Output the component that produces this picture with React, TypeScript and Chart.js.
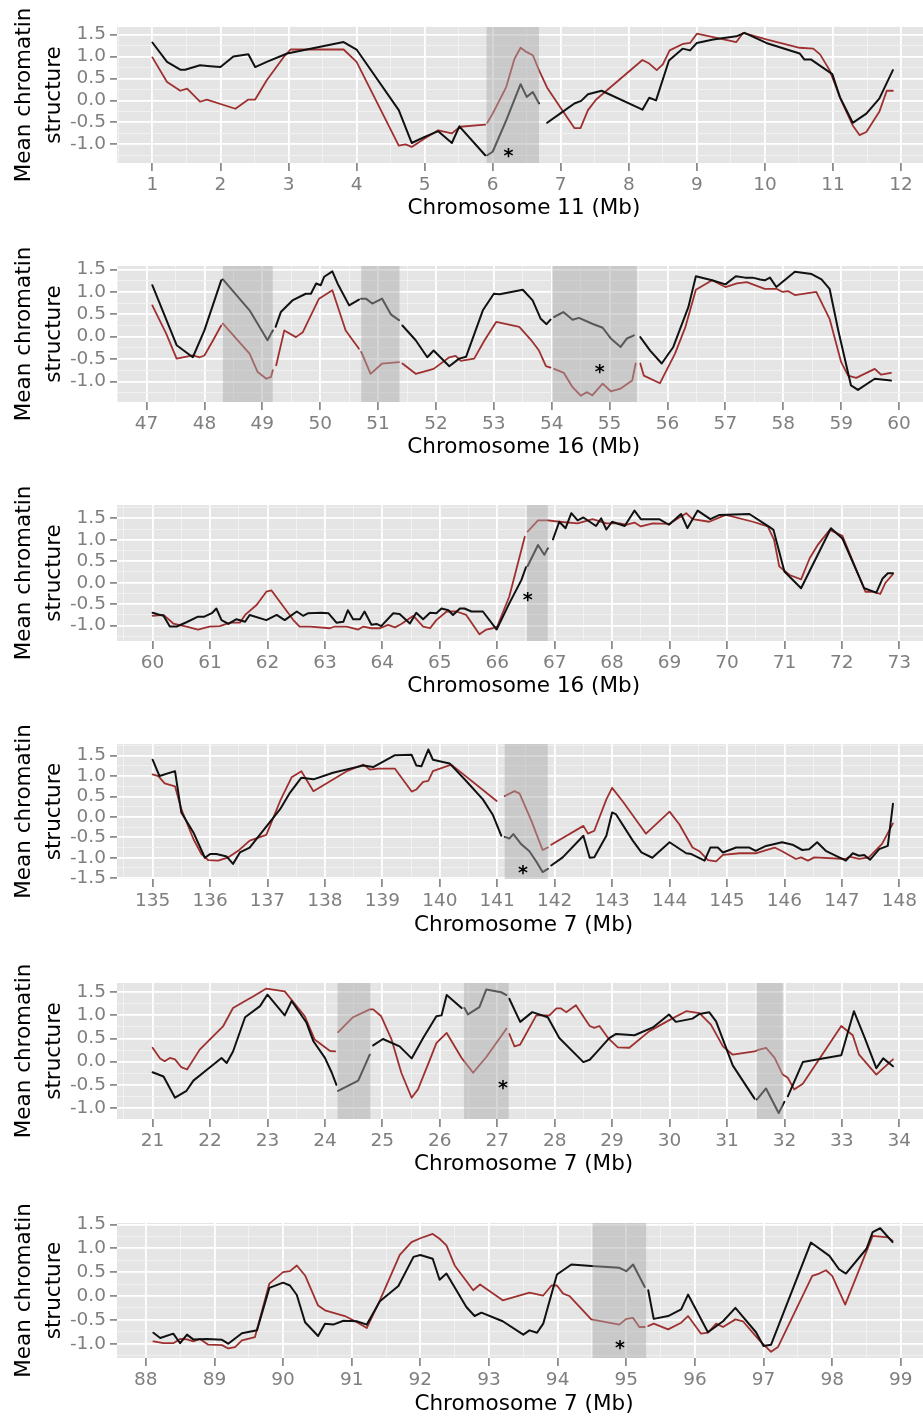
import React, { useEffect, useRef } from 'react';
import { Chart, registerables } from 'chart.js';

Chart.register(...registerables);

const FONT = '"DejaVu Sans", "Liberation Sans", sans-serif';
const BLACK = '#111111';
const RED = '#9e3030';
const PANEL_BG = '#e5e5e5';
const SHADE = 'rgba(170,170,170,0.47)';
const TICK_GRAY = '#7f7f7f';
const CANVAS_W = 931;
const CANVAS_H = 240;
const PLOT_TOP = 27;
const PLOT_LEFT = 117;
const TICK_FONT = 18.5;

type Pt = [number, number] | null;

// ---------- Panel 1: Chromosome 11 ----------
const p1Title = 'Chromosome 11 (Mb)';
const p1XTicks = [1, 2, 3, 4, 5, 6, 7, 8, 9, 10, 11, 12];
const p1YTicks = [-1.0, -0.5, 0.0, 0.5, 1.0, 1.5];
const p1XRange = [0.48, 12.44];
const p1YRange = [-1.426, 1.673];
const p1Shades = [[5.91, 6.68]];
const p1Star = [6.23, -1.17];
const p1Black: Pt[] = [
  [1.0, 1.32], [1.215, 0.88], [1.41, 0.7], [1.48, 0.7], [1.7, 0.8], [1.85, 0.78], [2.0, 0.76], [2.19, 1.0], [2.41, 1.05], [2.51, 0.76],
  [2.68, 0.88], [2.98, 1.07], [3.81, 1.33], [4.0, 1.16], [4.62, -0.22], [4.81, -0.97], [5.0, -0.83], [5.2, -0.7], [5.4, -0.97], [5.51, -0.59],
  [5.89, -1.25], null,
  [5.92, -1.25], [6.0, -1.17], [6.2, -0.45], [6.41, 0.37], [6.5, 0.08], [6.59, 0.19], [6.68, -0.07], null,
  [6.8, -0.51], [6.99, -0.3], [7.2, -0.07], [7.3, -0.01], [7.4, 0.14], [7.6, 0.22], [8.2, -0.21], [8.3, 0.06], [8.4, 0.0], [8.59, 0.91],
  [8.79, 1.18], [8.9, 1.14], [9.0, 1.31], [9.24, 1.39], [9.58, 1.46], [9.7, 1.54], [10.02, 1.31], [10.51, 1.07], [10.58, 0.93], [10.68, 0.93],
  [10.99, 0.6], [11.1, 0.08], [11.29, -0.51], [11.49, -0.3], [11.68, 0.04], [11.88, 0.69],
];
const p1Red: Pt[] = [
  [1.0, 0.98], [1.215, 0.42], [1.41, 0.22], [1.51, 0.27], [1.7, -0.03], [1.8, 0.02], [2.22, -0.19], [2.41, 0.02], [2.51, 0.02], [2.68, 0.46],
  [2.93, 0.99], [3.03, 1.16], [3.81, 1.16], [4.0, 0.88], [4.62, -1.03], [4.72, -1.0], [4.81, -1.06], [5.0, -0.87], [5.2, -0.68], [5.4, -0.75],
  [5.52, -0.6], [5.89, -0.55], null,
  [5.92, -0.51], [6.0, -0.3], [6.2, 0.31], [6.32, 0.95], [6.41, 1.2], [6.5, 1.1], [6.59, 1.03], [6.68, 0.69], [6.8, 0.29], [6.99, -0.15],
  [7.2, -0.63], [7.29, -0.63], [7.4, -0.22], [7.52, 0.02], [8.2, 0.92], [8.3, 0.84], [8.41, 0.69], [8.5, 0.82], [8.6, 1.14], [8.8, 1.29],
  [8.9, 1.31], [9.0, 1.52], [9.58, 1.33], [9.68, 1.54], [10.02, 1.39], [10.51, 1.2], [10.71, 1.18], [10.81, 1.05], [10.95, 0.69], [11.12, 0.0],
  [11.29, -0.57], [11.39, -0.79], [11.49, -0.72], [11.68, -0.26], [11.79, 0.22], [11.88, 0.22],
];

// ---------- Panel 2: Chromosome 16 (47-60) ----------
const p2Title = 'Chromosome 16 (Mb)';
const p2XTicks = [47, 48, 49, 50, 51, 52, 53, 54, 55, 56, 57, 58, 59, 60];
const p2YTicks = [-1.0, -0.5, 0.0, 0.5, 1.0, 1.5];
const p2XRange = [46.49, 60.54];
const p2YRange = [-1.46, 1.58];
const p2Shades = [[48.32, 49.18], [50.71, 51.37], [54.01, 55.47]];
const p2Star = [54.83, -0.68];
const p2Black: Pt[] = [
  [47.1, 1.15], [47.52, -0.19], [47.8, -0.46], [48.0, 0.14], [48.29, 1.26], null,
  [48.32, 1.28], [48.78, 0.59], [49.09, -0.08], [49.18, 0.14], null,
  [49.23, 0.22], [49.32, 0.55], [49.52, 0.81], [49.75, 0.96], [49.84, 0.96], [49.93, 1.19], [50.01, 1.15], [50.07, 1.34], [50.21, 1.46], [50.3, 1.19],
  [50.5, 0.7], [50.67, 0.83], null,
  [50.71, 0.85], [50.79, 0.85], [50.9, 0.74], [51.07, 0.85], [51.22, 0.5], [51.36, 0.37], null,
  [51.42, 0.25], [51.65, -0.08], [51.85, -0.46], [51.96, -0.31], [52.23, -0.66], [52.4, -0.49], [52.52, -0.45], [52.81, 0.59], [53.0, 0.96], [53.1, 0.95],
  [53.5, 1.05], [53.67, 0.81], [53.81, 0.4], [53.91, 0.28], [53.98, 0.38], null,
  [54.04, 0.44], [54.2, 0.55], [54.36, 0.38], [54.47, 0.42], [54.7, 0.29], [54.88, 0.2], [55.02, -0.04], [55.19, -0.23], [55.3, -0.04], [55.42, 0.03], null,
  [55.53, -0.01], [55.7, -0.31], [55.9, -0.6], [56.1, -0.23], [56.36, 0.66], [56.49, 1.35], [56.77, 1.26], [57.0, 1.17], [57.18, 1.35], [57.34, 1.32],
  [57.47, 1.32], [57.6, 1.28], [57.68, 1.26], [57.77, 1.32], [57.88, 1.11], [58.2, 1.45], [58.49, 1.4], [58.66, 1.28], [58.8, 1.07], [58.95, 0.14],
  [59.17, -1.09], [59.29, -1.19], [59.58, -0.94], [59.86, -0.98],
];
const p2Red: Pt[] = [
  [47.1, 0.7], [47.34, 0.07], [47.52, -0.49], [47.8, -0.42], [47.92, -0.46], [48.0, -0.42], [48.15, -0.08], [48.29, 0.25], null,
  [48.32, 0.29], [48.78, -0.38], [48.92, -0.79], [49.07, -0.94], [49.15, -0.9], [49.18, -0.75], null,
  [49.24, -0.64], [49.38, 0.14], [49.58, -0.01], [49.7, 0.1], [49.81, 0.4], [49.98, 0.85], [50.21, 1.04], [50.44, 0.14], [50.67, -0.27], null,
  [50.71, -0.34], [50.87, -0.83], [51.07, -0.6], [51.36, -0.57], null,
  [51.42, -0.6], [51.65, -0.83], [51.96, -0.72], [52.23, -0.46], [52.34, -0.43], [52.43, -0.54], [52.66, -0.49], [52.84, -0.08], [53.04, 0.33], [53.44, 0.22],
  [53.64, -0.07], [53.78, -0.31], [53.9, -0.66], [53.98, -0.69], null,
  [54.04, -0.72], [54.21, -0.81], [54.36, -1.13], [54.5, -1.32], [54.61, -1.24], [54.7, -1.31], [54.88, -1.05], [55.02, -1.22], [55.19, -1.16], [55.39, -0.98],
  [55.45, -0.6], null,
  [55.53, -0.6], [55.59, -0.87], [55.87, -1.04], [56.13, -0.38], [56.31, 0.22], [56.49, 1.05], [56.77, 1.26], [57.0, 1.11], [57.2, 1.19], [57.37, 1.22],
  [57.68, 1.07], [57.88, 1.07], [57.99, 1.0], [58.08, 1.02], [58.2, 0.93], [58.57, 1.0], [58.8, 0.4], [59.0, -0.57], [59.12, -0.87], [59.26, -0.92],
  [59.58, -0.72], [59.69, -0.85], [59.86, -0.81],
];

// ---------- Panel 3: Chromosome 16 (60-73) ----------
const p3Title = 'Chromosome 16 (Mb)';
const p3XTicks = [60, 61, 62, 63, 64, 65, 66, 67, 68, 69, 70, 71, 72, 73];
const p3YTicks = [-1.0, -0.5, 0.0, 0.5, 1.0, 1.5];
const p3XRange = [59.38, 73.54];
const p3YRange = [-1.357, 1.81];
const p3Shades = [[66.52, 66.88]];
const p3Star = [66.53, -0.31];
const p3Black: Pt[] = [
  [60.0, -0.7], [60.1, -0.74], [60.19, -0.77], [60.3, -1.02], [60.42, -1.02], [60.59, -0.92], [60.79, -0.79], [60.9, -0.79], [61.04, -0.7], [61.11, -0.6],
  [61.2, -0.87], [61.32, -0.96], [61.46, -0.85], [61.61, -0.91], [61.69, -0.75], [61.98, -0.87], [62.16, -0.75], [62.3, -0.87], [62.51, -0.67], [62.62, -0.77],
  [62.71, -0.71], [62.94, -0.7], [63.06, -0.71], [63.2, -0.93], [63.32, -0.91], [63.4, -0.64], [63.49, -0.85], [63.61, -0.85], [63.69, -0.67], [63.81, -0.98],
  [63.9, -0.96], [63.98, -1.01], [64.19, -0.71], [64.3, -0.73], [64.48, -0.95], [64.59, -0.7], [64.71, -0.85], [64.83, -0.7], [64.94, -0.71], [65.03, -0.6],
  [65.15, -0.64], [65.23, -0.75], [65.35, -0.6], [65.43, -0.6], [65.55, -0.67], [65.75, -0.67], [65.99, -1.09], [66.21, -0.48], [66.42, 0.06], [66.5, 0.36], null,
  [66.53, 0.39], [66.71, 0.88], [66.82, 0.65], [66.88, 0.8], null,
  [66.97, 1.01], [67.08, 1.42], [67.19, 1.27], [67.29, 1.62], [67.4, 1.45], [67.5, 1.52], [67.61, 1.42], [67.72, 1.32], [67.81, 1.5], [67.9, 1.24],
  [68.0, 1.42], [68.22, 1.32], [68.39, 1.68], [68.5, 1.48], [68.82, 1.48], [68.99, 1.35], [69.2, 1.6], [69.31, 1.27], [69.49, 1.68], [69.71, 1.48],
  [69.87, 1.58], [70.39, 1.6], [70.77, 1.27], [70.81, 1.23], [71.0, 0.26], [71.29, -0.13], [71.81, 1.27], [72.01, 1.03], [72.39, -0.13], [72.6, -0.23],
  [72.71, 0.1], [72.8, 0.22], [72.89, 0.22],
];
const p3Red: Pt[] = [
  [60.0, -0.77], [60.19, -0.75], [60.36, -0.95], [60.59, -1.02], [60.79, -1.09], [60.99, -1.02], [61.17, -1.01], [61.35, -0.93], [61.52, -0.93], [61.61, -0.75],
  [61.81, -0.52], [61.98, -0.21], [62.07, -0.18], [62.27, -0.54], [62.45, -0.87], [62.56, -1.02], [62.74, -1.02], [63.09, -1.06], [63.17, -1.02], [63.38, -1.02],
  [63.58, -1.09], [63.67, -1.02], [63.81, -1.06], [63.96, -1.06], [64.1, -0.98], [64.22, -1.04], [64.33, -0.96], [64.54, -0.77], [64.71, -1.02], [64.83, -1.06],
  [64.94, -0.87], [65.12, -0.67], [65.29, -0.67], [65.46, -0.75], [65.69, -1.2], [65.81, -1.09], [65.92, -1.06], [66.0, -1.02], [66.21, -0.32], [66.48, 1.07], null,
  [66.53, 1.19], [66.71, 1.45], [66.88, 1.45], [67.08, 1.42], [67.4, 1.38], [67.66, 1.48], [67.9, 1.38], [68.13, 1.38], [68.24, 1.35], [68.39, 1.4],
  [68.5, 1.31], [68.71, 1.38], [68.99, 1.37], [69.29, 1.62], [69.4, 1.48], [69.69, 1.42], [69.98, 1.58], [70.45, 1.42], [70.71, 1.31], [70.82, 1.0],
  [70.91, 0.38], [71.09, 0.18], [71.29, 0.08], [71.44, 0.57], [71.58, 0.88], [71.79, 1.23], [72.01, 1.09], [72.41, -0.21], [72.53, -0.21], [72.67, -0.26],
  [72.76, 0.0], [72.89, 0.2],
];

// ---------- Panel 4: Chromosome 7 (135-148) ----------
const p4Title = 'Chromosome 7 (Mb)';
const p4XTicks = [135, 136, 137, 138, 139, 140, 141, 142, 143, 144, 145, 146, 147, 148];
const p4YTicks = [-1.5, -1.0, -0.5, 0.0, 0.5, 1.0, 1.5];
const p4XRange = [134.38, 148.54];
const p4YRange = [-1.52, 1.785];
const p4Shades = [[141.13, 141.88]];
const p4Star = [141.45, -1.27];
const p4Black: Pt[] = [
  [135.0, 1.4], [135.12, 1.0], [135.39, 1.12], [135.5, 0.11], [135.71, -0.38], [135.91, -1.0], [136.0, -0.91], [136.11, -0.91], [136.29, -0.97], [136.4, -1.15],
  [136.52, -0.87], [136.69, -0.75], [137.01, -0.18], [137.22, 0.19], [137.39, 0.59], [137.59, 0.96], [137.8, 0.92], [138.14, 1.08], [138.49, 1.2], [138.67, 1.26],
  [138.84, 1.22], [139.22, 1.51], [139.51, 1.52], [139.59, 1.26], [139.68, 1.24], [139.8, 1.65], [139.88, 1.4], [140.17, 1.31], [140.46, 0.88], [140.75, 0.43],
  [140.92, 0.06], [141.07, -0.46], null,
  [141.13, -0.49], [141.21, -0.53], [141.28, -0.42], [141.42, -0.67], [141.56, -0.84], [141.68, -1.09], [141.79, -1.35], [141.88, -1.27], null,
  [141.94, -1.19], [142.14, -0.99], [142.5, -0.46], [142.61, -1.0], [142.69, -0.99], [142.9, -0.46], [143.0, 0.11], [143.07, 0.06], [143.36, -0.58], [143.51, -0.87],
  [143.7, -1.0], [144.0, -0.62], [144.29, -0.89], [144.38, -0.91], [144.61, -1.07], [144.71, -0.75], [144.84, -0.75], [144.93, -0.87], [145.16, -0.75], [145.39, -0.75],
  [145.5, -0.83], [145.68, -0.71], [145.96, -0.62], [146.14, -0.68], [146.31, -0.81], [146.43, -0.79], [146.57, -0.62], [146.72, -0.83], [147.07, -1.07], [147.19, -0.89],
  [147.3, -0.95], [147.39, -0.93], [147.49, -1.05], [147.65, -0.79], [147.8, -0.71], [147.89, 0.32],
];
const p4Red: Pt[] = [
  [135.0, 1.04], [135.1, 1.0], [135.21, 0.82], [135.39, 0.75], [135.5, 0.19], [135.71, -0.54], [135.85, -0.91], [135.97, -1.06], [136.14, -1.07], [136.32, -0.99],
  [136.49, -0.83], [136.69, -0.58], [136.98, -0.44], [137.22, 0.39], [137.42, 0.97], [137.59, 1.12], [137.8, 0.63], [138.38, 1.12], [138.67, 1.28], [138.78, 1.16],
  [138.93, 1.18], [139.22, 1.18], [139.51, 0.62], [139.59, 0.67], [139.71, 0.86], [139.8, 0.88], [139.88, 1.12], [140.2, 1.28], [140.99, 0.39], null,
  [141.13, 0.51], [141.3, 0.63], [141.39, 0.57], [141.59, -0.08], [141.79, -0.81], [141.88, -0.75], null,
  [141.94, -0.68], [142.5, -0.22], [142.58, -0.41], [142.69, -0.34], [142.9, 0.43], [143.0, 0.71], [143.19, 0.37], [143.59, -0.41], [144.0, 0.13], [144.17, -0.18],
  [144.4, -0.75], [144.52, -0.84], [144.67, -1.06], [144.81, -1.09], [144.93, -0.93], [145.22, -0.89], [145.5, -0.89], [145.74, -0.79], [145.83, -0.75], [145.96, -0.84],
  [146.2, -1.03], [146.29, -0.99], [146.41, -1.07], [146.52, -0.99], [147.07, -1.03], [147.13, -0.97], [147.3, -1.03], [147.47, -0.99], [147.7, -0.66], [147.89, -0.16],
];

// ---------- Panel 5: Chromosome 7 (21-34) ----------
const p5Title = 'Chromosome 7 (Mb)';
const p5XTicks = [21, 22, 23, 24, 25, 26, 27, 28, 29, 30, 31, 32, 33, 34];
const p5YTicks = [-1.0, -0.5, 0.0, 0.5, 1.0, 1.5];
const p5XRange = [20.38, 34.54];
const p5YRange = [-1.24, 1.7];
const p5Shades = [[24.22, 24.79], [26.42, 27.2], [31.52, 31.97]];
const p5Star = [27.1, -0.48];
const p5Black: Pt[] = [
  [21.0, -0.23], [21.19, -0.32], [21.39, -0.78], [21.59, -0.63], [21.71, -0.41], [21.88, -0.24], [22.2, 0.08], [22.29, -0.03], [22.4, 0.22], [22.61, 0.96],
  [22.87, 1.2], [23.0, 1.45], [23.3, 1.0], [23.42, 1.31], [23.68, 0.84], [23.8, 0.44], [24.0, 0.08], [24.12, -0.24], [24.2, -0.5], null,
  [24.23, -0.63], [24.58, -0.41], [24.78, 0.15], null,
  [24.84, 0.35], [25.01, 0.49], [25.3, 0.33], [25.51, 0.07], [25.71, 0.51], [25.94, 0.98], [26.03, 1.0], [26.12, 1.44], [26.38, 1.16], null,
  [26.43, 1.16], [26.49, 1.02], [26.69, 1.18], [26.81, 1.56], [27.07, 1.5], [27.16, 1.44], null,
  [27.21, 1.36], [27.4, 0.86], [27.61, 1.07], [27.88, 0.96], [28.08, 0.51], [28.5, -0.01], [28.61, 0.04], [28.72, 0.19], [28.95, 0.51], [29.07, 0.6],
  [29.39, 0.57], [29.71, 0.74], [29.99, 1.02], [30.11, 0.86], [30.4, 0.93], [30.52, 1.03], [30.69, 1.07], [30.81, 0.87], [31.1, -0.08], [31.48, -0.8], null,
  [31.52, -0.82], [31.68, -0.58], [31.9, -1.11], [32.0, -0.87], null,
  [32.06, -0.75], [32.32, -0.01], [32.99, 0.14], [33.21, 1.09], [33.4, 0.51], [33.6, -0.14], [33.72, 0.07], [33.89, -0.1],
];
const p5Red: Pt[] = [
  [21.0, 0.3], [21.13, 0.07], [21.21, 0.01], [21.3, 0.08], [21.39, 0.05], [21.5, -0.12], [21.6, -0.17], [21.82, 0.26], [22.23, 0.77], [22.4, 1.16],
  [22.61, 1.31], [22.75, 1.41], [22.98, 1.58], [23.3, 1.52], [23.65, 0.98], [23.82, 0.48], [24.09, 0.23], [24.18, 0.22], null,
  [24.23, 0.64], [24.49, 0.96], [24.78, 1.13], [24.84, 1.13], [24.98, 0.98], [25.16, 0.48], [25.33, -0.24], [25.51, -0.78], [25.62, -0.6], [25.83, 0.05],
  [25.94, 0.4], [26.12, 0.62], [26.38, 0.08], [26.43, 0.0], [26.58, -0.24], [26.81, 0.1], [27.16, 0.71], null,
  [27.21, 0.6], [27.3, 0.33], [27.4, 0.37], [27.68, 1.0], [27.91, 1.0], [28.03, 1.15], [28.11, 1.15], [28.2, 1.07], [28.37, 1.22], [28.61, 0.77],
  [28.69, 0.73], [28.78, 0.77], [28.93, 0.51], [29.1, 0.31], [29.3, 0.3], [29.65, 0.66], [30.06, 0.94], [30.29, 1.09], [30.52, 1.05], [30.72, 0.8],
  [30.93, 0.33], [31.1, 0.15], [31.48, 0.22], [31.56, 0.26], [31.68, 0.3], [31.83, 0.08], [31.97, -0.28], [32.06, -0.35], [32.17, -0.6], [32.32, -0.48],
  [32.55, -0.05], [32.99, 0.77], [33.19, 0.57], [33.3, 0.15], [33.6, -0.28], [33.89, 0.05],
];

// ---------- Panel 6: Chromosome 7 (88-99) ----------
const p6Title = 'Chromosome 7 (Mb)';
const p6XTicks = [88, 89, 90, 91, 92, 93, 94, 95, 96, 97, 98, 99];
const p6YTicks = [-1.0, -0.5, 0.0, 0.5, 1.0, 1.5];
const p6XRange = [87.58, 99.44];
const p6YRange = [-1.3, 1.53];
const p6Shades = [[94.51, 95.29]];
const p6Star = [94.91, -1.0];
const p6Black: Pt[] = [
  [88.11, -0.77], [88.21, -0.88], [88.4, -0.79], [88.5, -0.99], [88.6, -0.81], [88.69, -0.91], [88.89, -0.9], [89.11, -0.92], [89.2, -1.0], [89.4, -0.78],
  [89.62, -0.72], [89.8, 0.17], [90.0, 0.28], [90.1, 0.22], [90.2, 0.02], [90.32, -0.55], [90.51, -0.84], [90.61, -0.58], [90.73, -0.6], [90.88, -0.52],
  [91.07, -0.53], [91.22, -0.6], [91.41, -0.11], [91.68, 0.21], [91.9, 0.82], [92.0, 0.86], [92.18, 0.78], [92.28, 0.34], [92.38, 0.47], [92.67, -0.23],
  [92.79, -0.42], [92.89, -0.35], [93.2, -0.53], [93.5, -0.81], [93.59, -0.72], [93.7, -0.77], [93.79, -0.58], [93.99, 0.45], [94.2, 0.66], [94.49, 0.63],
  [94.9, 0.59], [95.0, 0.52], [95.1, 0.66], [95.27, 0.19], null,
  [95.32, 0.12], [95.4, -0.48], [95.61, -0.42], [95.8, -0.28], [95.9, 0.03], [96.19, -0.76], [96.41, -0.53], [96.59, -0.25], [96.89, -0.76], [97.0, -1.05],
  [97.11, -1.02], [97.69, 1.12], [97.96, 0.84], [98.1, 0.56], [98.2, 0.47], [98.5, 0.99], [98.59, 1.34], [98.7, 1.42], [98.88, 1.13],
];
const p6Red: Pt[] = [
  [88.11, -0.95], [88.26, -0.99], [88.4, -0.99], [88.5, -0.9], [88.6, -0.91], [88.69, -0.95], [88.79, -0.9], [88.91, -1.02], [89.11, -1.03], [89.2, -1.1],
  [89.3, -1.07], [89.4, -0.93], [89.59, -0.86], [89.8, 0.26], [90.0, 0.5], [90.1, 0.52], [90.2, 0.64], [90.32, 0.43], [90.51, -0.2], [90.61, -0.3],
  [90.9, -0.42], [91.05, -0.53], [91.22, -0.67], [91.41, -0.09], [91.7, 0.86], [91.87, 1.13], [92.0, 1.21], [92.18, 1.3], [92.28, 1.2], [92.38, 1.06],
  [92.5, 0.64], [92.77, 0.12], [92.87, 0.24], [93.2, -0.09], [93.59, 0.07], [93.79, 0.01], [93.91, 0.22], [93.99, 0.22], [94.08, 0.05], [94.17, 0.0],
  [94.49, -0.49], [94.9, -0.6], [95.0, -0.48], [95.1, -0.46], [95.19, -0.65], [95.27, -0.65], null,
  [95.32, -0.63], [95.4, -0.58], [95.61, -0.7], [95.8, -0.56], [95.9, -0.42], [96.09, -0.79], [96.19, -0.77], [96.31, -0.58], [96.41, -0.65], [96.59, -0.49],
  [96.7, -0.53], [96.94, -0.93], [97.11, -1.17], [97.21, -1.07], [97.71, 0.42], [97.81, 0.47], [97.91, 0.54], [98.0, 0.42], [98.19, -0.18], [98.59, 1.26],
  [98.81, 1.23], [98.88, 1.16],
];

interface PanelCfg {
  title: string;
  xTicks: number[];
  yTicks: number[];
  xRange: number[];
  yRange: number[];
  shades: number[][];
  star: number[];
  black: Pt[];
  red: Pt[];
  top: number;
  plotH: number;
}

const panels: PanelCfg[] = [
  { title: p1Title, xTicks: p1XTicks, yTicks: p1YTicks, xRange: p1XRange, yRange: p1YRange, shades: p1Shades, star: p1Star, black: p1Black, red: p1Red, top: 0, plotH: 136 },
  { title: p2Title, xTicks: p2XTicks, yTicks: p2YTicks, xRange: p2XRange, yRange: p2YRange, shades: p2Shades, star: p2Star, black: p2Black, red: p2Red, top: 239, plotH: 136 },
  { title: p3Title, xTicks: p3XTicks, yTicks: p3YTicks, xRange: p3XRange, yRange: p3YRange, shades: p3Shades, star: p3Star, black: p3Black, red: p3Red, top: 478, plotH: 136 },
  { title: p4Title, xTicks: p4XTicks, yTicks: p4YTicks, xRange: p4XRange, yRange: p4YRange, shades: p4Shades, star: p4Star, black: p4Black, red: p4Red, top: 717, plotH: 135 },
  { title: p5Title, xTicks: p5XTicks, yTicks: p5YTicks, xRange: p5XRange, yRange: p5YRange, shades: p5Shades, star: p5Star, black: p5Black, red: p5Red, top: 956, plotH: 136 },
  { title: p6Title, xTicks: p6XTicks, yTicks: p6YTicks, xRange: p6XRange, yRange: p6YRange, shades: p6Shades, star: p6Star, black: p6Black, red: p6Red, top: 1196, plotH: 135 },
];

function toData(pts: Pt[]) {
  const out: { x: number; y: number | null }[] = [];
  let lastX = 0;
  for (const p of pts) {
    if (p) {
      out.push({ x: p[0], y: p[1] });
      lastX = p[0];
    } else {
      out.push({ x: lastX + 0.001, y: null });
    }
  }
  return out;
}

function gridValues(major: number[], range: number[]) {
  const half = (major[1] - major[0]) / 2;
  const vals: number[] = [];
  const start = Math.ceil(range[0] / half - 1e-9);
  for (let k = start; k * half <= range[1] + 1e-9; k++) {
    vals.push(Math.round(k * half * 1e6) / 1e6);
  }
  return vals;
}

const isMajor = (arr: number[], v: number) => arr.some((m) => Math.abs(m - v) < 1e-6);

function Panel({ cfg }: { cfg: PanelCfg }) {
  const ref = useRef<HTMLCanvasElement | null>(null);

  useEffect(() => {
    const canvas = ref.current;
    if (!canvas) return;
    const xVals = gridValues(cfg.xTicks, cfg.xRange);
    const yVals = gridValues(cfg.yTicks, cfg.yRange);
    const xAxisH = CANVAS_H - PLOT_TOP - cfg.plotH;

    const bgPlugin = {
      id: 'panelBg',
      beforeDraw(chart: any) {
        const { ctx, chartArea: a } = chart;
        ctx.save();
        ctx.fillStyle = PANEL_BG;
        ctx.fillRect(a.left, a.top, a.right - a.left, a.bottom - a.top);
        ctx.restore();
      },
    };

    const overlayPlugin = {
      id: 'overlay',
      afterDatasetsDraw(chart: any) {
        const { ctx, chartArea: a, scales } = chart;
        const xs = scales.x;
        const ys = scales.y;
        ctx.save();
        ctx.fillStyle = SHADE;
        for (const s of cfg.shades) {
          const x0 = xs.getPixelForValue(s[0]);
          const x1 = xs.getPixelForValue(s[1]);
          ctx.fillRect(x0, a.top, x1 - x0, a.bottom - a.top);
        }
        const size = 19;
        ctx.fillStyle = '#000';
        ctx.font = `bold ${size}px ${FONT}`;
        ctx.textAlign = 'center';
        ctx.textBaseline = 'alphabetic';
        const px = xs.getPixelForValue(cfg.star[0]);
        const py = ys.getPixelForValue(cfg.star[1]);
        ctx.fillText('*', px, py + size * 0.55);
        ctx.restore();
      },
    };

    const chart = new Chart(canvas, {
      type: 'line',
      data: {
        datasets: [
          {
            data: toData(cfg.black) as any,
            borderColor: BLACK,
            borderWidth: 2,
            pointRadius: 0,
            tension: 0,
            spanGaps: false,
            borderJoinStyle: 'round',
            borderCapStyle: 'round',
            order: 0,
          },
          {
            data: toData(cfg.red) as any,
            borderColor: RED,
            borderWidth: 1.8,
            pointRadius: 0,
            tension: 0,
            spanGaps: false,
            borderJoinStyle: 'round',
            borderCapStyle: 'round',
            order: 1,
          },
        ],
      },
      options: {
        responsive: false,
        animation: false,
        devicePixelRatio: 1,
        events: [],
        layout: { padding: { top: PLOT_TOP, right: 0, left: 0, bottom: 0 } },
        plugins: {
          legend: { display: false },
          tooltip: { enabled: false },
        },
        scales: {
          x: {
            type: 'linear',
            bounds: 'data',
            min: cfg.xRange[0],
            max: cfg.xRange[1],
            afterFit: (s: any) => {
              s.height = xAxisH;
            },
            afterBuildTicks: (s: any) => {
              s.ticks = xVals.map((v) => ({ value: v }));
            },
            ticks: {
              autoSkip: false,
              maxRotation: 0,
              padding: 3,
              color: TICK_GRAY,
              font: { family: FONT, size: TICK_FONT },
              callback: (v: any) => (isMajor(cfg.xTicks, Number(v)) ? String(Math.round(Number(v))) : ''),
            },
            grid: {
              drawTicks: true,
              tickLength: 8,
              tickWidth: 1.6,
              color: (c: any) => (isMajor(cfg.xTicks, c.tick?.value) ? '#ffffff' : '#f2f2f2'),
              lineWidth: (c: any) => (isMajor(cfg.xTicks, c.tick?.value) ? 1.8 : 0.9),
              tickColor: (c: any) => (isMajor(cfg.xTicks, c.tick?.value) ? TICK_GRAY : 'rgba(0,0,0,0)'),
            },
            border: { display: false },
            title: {
              display: true,
              text: cfg.title,
              color: '#000',
              font: { family: FONT, size: 21.5 },
              padding: { top: 0, bottom: 19 },
            },
          },
          y: {
            type: 'linear',
            bounds: 'data',
            min: cfg.yRange[0],
            max: cfg.yRange[1],
            afterFit: (s: any) => {
              s.width = PLOT_LEFT;
            },
            afterBuildTicks: (s: any) => {
              s.ticks = yVals.map((v) => ({ value: v }));
            },
            ticks: {
              autoSkip: false,
              padding: 4,
              color: TICK_GRAY,
              font: { family: FONT, size: TICK_FONT },
              callback: (v: any) => (isMajor(cfg.yTicks, Number(v)) ? Number(v).toFixed(1) : ''),
            },
            grid: {
              drawTicks: true,
              tickLength: 7,
              tickWidth: 1.6,
              color: (c: any) => (isMajor(cfg.yTicks, c.tick?.value) ? '#ffffff' : '#f2f2f2'),
              lineWidth: (c: any) => (isMajor(cfg.yTicks, c.tick?.value) ? 1.8 : 0.9),
              tickColor: (c: any) => (isMajor(cfg.yTicks, c.tick?.value) ? TICK_GRAY : 'rgba(0,0,0,0)'),
            },
            border: { display: false },
            title: {
              display: true,
              text: ['Mean chromatin', 'structure'],
              color: '#000',
              font: { family: FONT, size: 21.5, lineHeight: 1.4 },
              padding: { top: 9, bottom: 0 },
            },
          },
        },
      } as any,
      plugins: [bgPlugin, overlayPlugin],
    });

    return () => {
      chart.destroy();
    };
  }, [cfg]);

  return (
    <canvas
      ref={ref}
      width={CANVAS_W}
      height={CANVAS_H}
      style={{ position: 'absolute', left: 0, top: cfg.top, display: 'block' }}
    />
  );
}

export default function App() {
  return (
    <div
      style={{
        position: 'absolute',
        left: 0,
        top: 0,
        width: 923,
        height: 1416,
        overflow: 'hidden',
        background: '#ffffff',
      }}
    >
      {panels.map((p, i) => (
        <Panel key={i} cfg={p} />
      ))}
    </div>
  );
}
